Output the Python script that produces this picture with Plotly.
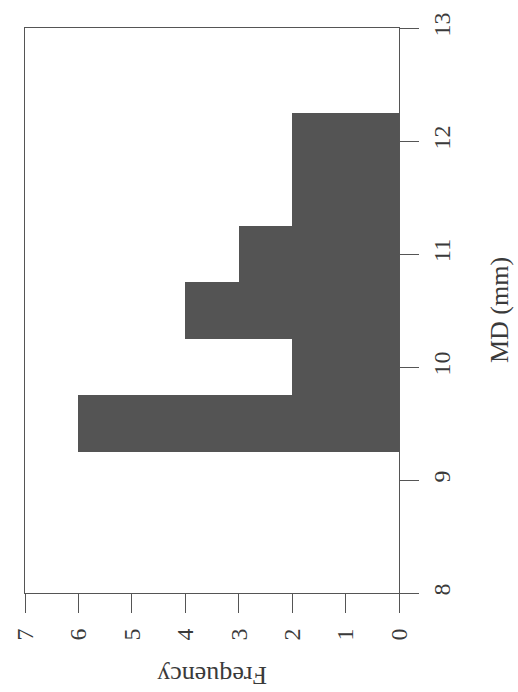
import plotly.graph_objects as go

# Histogram data (MD in mm, bin width 0.5)
bin_left = [9.25, 9.75, 10.25, 10.75, 11.25, 11.75]
bin_width = 0.5
counts = [6, 2, 4, 3, 2, 2]
md_ticks = [8, 9, 10, 11, 12, 13]
freq_ticks = [0, 1, 2, 3, 4, 5, 6, 7]

centers = [b + bin_width / 2 for b in bin_left]

FONT = "Liberation Serif"
TXT = "#3a3a3a"
LINE = "#555555"

fig = go.Figure()
fig.add_trace(go.Bar(
    x=counts, y=centers, orientation="h",
    width=[bin_width] * len(counts),
    marker=dict(color="#545454", line=dict(color="#545454", width=0)),
    showlegend=False,
))

fig.update_layout(
    width=518, height=692,
    margin=dict(l=24, r=119, t=23, b=99),
    paper_bgcolor="white", plot_bgcolor="white",
    bargap=0,
    xaxis=dict(
        range=[7, 0], tickvals=freq_ticks, ticktext=[str(v) for v in freq_ticks],
        ticks="outside", ticklen=19, tickwidth=1, tickcolor=LINE,
        showline=True, linecolor=LINE, linewidth=1, mirror=True,
        showgrid=False, zeroline=False, tickangle=-90,
        tickfont=dict(family=FONT, size=24, color=TXT),
        ticklabelstandoff=6,
    ),
    yaxis=dict(
        range=[8, 13], tickvals=md_ticks, ticktext=[str(v) for v in md_ticks],
        side="right",
        ticks="outside", ticklen=19, tickwidth=1, tickcolor=LINE,
        showline=True, linecolor=LINE, linewidth=1, mirror=True,
        showgrid=False, zeroline=False, tickangle=-90,
        tickfont=dict(family=FONT, size=24, color=TXT),
        ticklabelstandoff=2,
    ),
    annotations=[
        dict(text="Frequency", xref="paper", yref="paper", x=0.5, y=-0.147,
             xanchor="center", yanchor="middle", showarrow=False, textangle=180,
             font=dict(family=FONT, size=26, color=TXT)),
        dict(text="MD (mm)", xref="paper", yref="paper", x=1.269, y=0.5,
             xanchor="center", yanchor="middle", showarrow=False, textangle=-90,
             font=dict(family=FONT, size=26, color=TXT)),
    ],
)

fig.write_html("out.html")
